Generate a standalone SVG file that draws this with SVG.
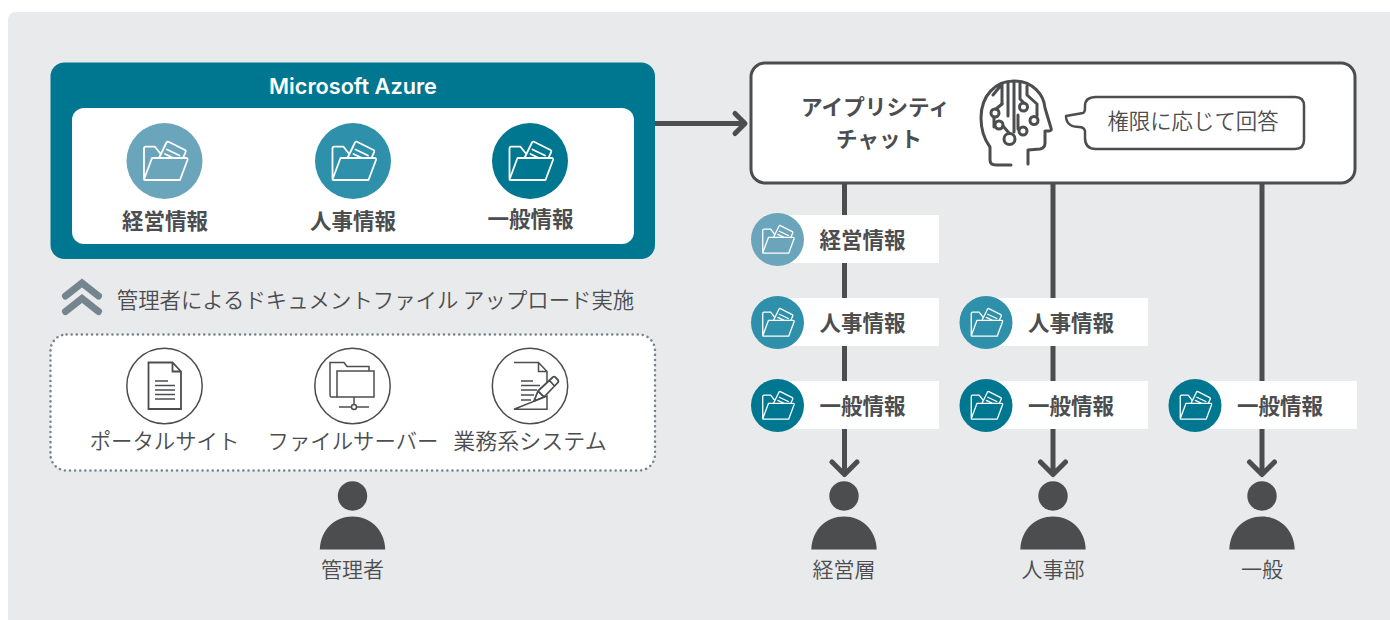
<svg xmlns="http://www.w3.org/2000/svg" width="1390" height="620" viewBox="0 0 1390 620">
<style>
text{font-family:"Noto Sans CJK JP","Noto Sans",sans-serif;fill:#4c4d4f;text-anchor:middle}
.b{font-weight:700;font-size:21.500px}
.r{font-size:21.400px;font-weight:350}
.p{font-size:21px;font-weight:350}
.ln{fill:none;stroke:#4c4d4f;stroke-width:5;stroke-linecap:round;stroke-linejoin:round}
.ic{fill:none;stroke:#4c4d4f;stroke-width:1.500}
.lab{fill:#fff}
.c1{fill:#6ba5bc}.c2{fill:#2e90aa}.c3{fill:#007791}
</style>
<defs>
<g id="folder" fill="none" stroke="#fff" stroke-width="1.800" stroke-linejoin="round" stroke-linecap="round">
<path d="M-20.500 17V-12.500q0-1.800 1.800-1.800H-9.500l5.500 7M-20.500 18.500L-12.500-3H21.500q2 0 1.500 2L15.500 19H-19.500q-1 0-1-.5"/>
<path d="M-5.500-3L2-18.500q.8-1.300 2-.7L20.500-11q1.300.7.7 2L18.500-3M2.500-11.500L15-5.500M.5-7L9-3"/>
</g>
<g id="person" fill="#4c4d4f">
<circle cx="0" cy="0" r="14.700"/>
<path d="M-32.700 53.500C-32 33-17 20.500 0 20.500S32 33 32.700 53.500Z"/>
</g>
</defs>
<rect id="background" x="8" y="12" width="1400" height="620" rx="8" fill="#e9eaec"/>

<g id="connectors">
<path class="ln" d="M655 123.500H744M735 113.500L745 123.500L735 133.500"/>
<path class="ln" d="M844.500 184V472M832 462L844.500 474.500L857 462"/>
<path class="ln" d="M1053 184V472M1040.500 462L1053 474.500L1065.500 462"/>
<path class="ln" d="M1262 184V472M1249.500 462L1262 474.500L1274.500 462"/>
</g>

<g id="azure">
<rect x="50.500" y="62.500" width="604.500" height="196.500" rx="14" fill="#007791"/>
<rect x="72" y="108" width="562" height="136" rx="12" fill="#fff"/>
<text x="353" y="94" style="font-family:Inter,'Noto Sans',sans-serif;font-weight:600;font-size:21.700px;fill:#fff">Microsoft Azure</text>
</g>
<g id="azure-keiei"><circle class="c1" cx="164.500" cy="161" r="38"/><use href="#folder" x="164.500" y="161"/><text class="b" x="165" y="229">経営情報</text></g>
<g id="azure-jinji"><circle class="c2" cx="353" cy="161" r="38"/><use href="#folder" x="353" y="161"/><text class="b" x="353" y="229">人事情報</text></g>
<g id="azure-ippan"><circle class="c3" cx="530" cy="161" r="38"/><use href="#folder" x="530" y="161"/><text class="b" x="530.500" y="227">一般情報</text></g>

<g id="upload">
<path d="M65.500 296L82 283L98.500 296M65.500 311.500L82 298.500L98.500 311.500" fill="none" stroke="#75858f" stroke-width="7" stroke-linecap="round" stroke-linejoin="miter"/>
<text class="r" x="375.500" y="308">管理者によるドキュメントファイル アップロード実施</text>
</g>

<g id="sources">
<rect x="50.500" y="334.500" width="604.500" height="136" rx="16" fill="#fff" stroke="#75858f" stroke-width="2.500" stroke-dasharray="0.100 5" stroke-linecap="round"/>
</g>
<g id="portal">
<circle class="ic" cx="164.500" cy="386" r="37.700"/>
<path class="ic" style="stroke-width:1.800" d="M148.500 362.500H172.500L181 371.500V409H148.500ZM172.500 362.500V371.500H181"/>
<path class="ic" d="M155 381H168M155 385.500H175M155 390H175M155 394.500H175M155 399H175"/>
<text class="r" x="164.500" y="449">ポータルサイト</text>
</g>
<g id="fileserver">
<circle class="ic" cx="352.500" cy="386" r="37.700"/>
<path class="ic" d="M331 397Q330 397 330 395V362.500H344L347 366.500H369V371"/>
<rect class="ic" x="337" y="371" width="37" height="26"/>
<path class="ic" d="M331 397H337M354 397V404M339 407H351.500M356.500 407H369"/>
<circle class="ic" cx="354" cy="407" r="2.500"/>
<text class="r" x="353" y="449">ファイルサーバー</text>
</g>
<g id="business">
<circle class="ic" cx="530" cy="386" r="37.700"/>
<path class="ic" d="M514 362.500H538.500L547 371.500V382M547 396V409.300H514ZM538.500 362.500V371.500H547"/>
<path class="ic" d="M521 381H533M521 385.500H540M521 390H537M521 395H534M521 400H531"/>
<path class="ic" style="stroke-width:1.800;stroke-linejoin:round" d="M534 401L538 391L553 377Q555 376 556 378L558 380Q559 382 557.500 383L544 397ZM538 391L544 397M549.500 380.500L554.500 386"/>
<text class="r" x="530" y="449" style="font-size:22px">業務系システム</text>
</g>

<g id="chat">
<rect x="751" y="63" width="604" height="120" rx="14" fill="#fff" stroke="#4c4d4f" stroke-width="3"/>
<text class="b" x="875.500" y="115" style="font-size:21.600px">アイプリシティ</text>
<text class="b" x="879" y="147">チャット</text>
<g id="brain" fill="none" stroke="#4c4d4f" stroke-width="3" stroke-linecap="round" stroke-linejoin="round">
<path d="M1011 165H996Q990 165 990 160V147Q981 135 981 118C981 95 996 81 1014 81C1033 81 1044 95 1045 108L1051 128Q1052 131 1049 131H1045V143Q1045 148 1040 149L1028 150V164"/>
<path d="M1002 85V104M1002 84L993 95M1008 83V116M1014 82V132M1020 83V99L1024 103M1027 86V95L1037 104V116"/>
<circle cx="995" cy="113" r="4"/><circle cx="999" cy="125" r="4"/><circle cx="1023.500" cy="107" r="4"/><circle cx="1034" cy="120.500" r="4"/><circle cx="1023" cy="131" r="4"/><circle cx="1009.500" cy="139" r="5.500"/>
<path d="M1002 104L996 109M994 118L994 127M1003 126L1009 133M1018 115V129"/>
</g>
<path fill="none" stroke="#4c4d4f" stroke-width="2.500" stroke-linejoin="round" d="M1096 97H1295Q1304 97 1304 106V140Q1304 149 1295 149H1096Q1085 149 1085 138V131Q1084 127 1079 127C1072 127 1066 124 1066 116L1083 113Q1085 112 1085 108V106Q1085 97 1096 97Z"/>
<text class="r" x="1193" y="129">権限に応じて回答</text>
</g>

<g id="row1-keiei"><rect class="lab" x="764" y="215" width="175" height="48"/><circle class="c1" cx="777.500" cy="239.500" r="26.500"/><use href="#folder" transform="translate(777.500 239.500) scale(.72)"/><text class="b" x="862.500" y="247.500">経営情報</text></g>
<g id="row2-jinji"><rect class="lab" x="764" y="298" width="175" height="48"/><circle class="c2" cx="777.500" cy="322.500" r="26.500"/><use href="#folder" transform="translate(777.500 322.500) scale(.72)"/><text class="b" x="862.500" y="330.500">人事情報</text></g>
<g id="row3-ippan"><rect class="lab" x="764" y="381" width="175" height="48"/><circle class="c3" cx="777.500" cy="405.500" r="26.500"/><use href="#folder" transform="translate(777.500 405.500) scale(.72)"/><text class="b" x="862.500" y="413.500">一般情報</text></g>
<g id="hr-jinji"><rect class="lab" x="973" y="298" width="175" height="48"/><circle class="c2" cx="986" cy="322.500" r="26.500"/><use href="#folder" transform="translate(986 322.500) scale(.72)"/><text class="b" x="1071" y="330.500">人事情報</text></g>
<g id="hr-ippan"><rect class="lab" x="973" y="381" width="175" height="48"/><circle class="c3" cx="986" cy="405.500" r="26.500"/><use href="#folder" transform="translate(986 405.500) scale(.72)"/><text class="b" x="1071" y="413.500">一般情報</text></g>
<g id="gen-ippan"><rect class="lab" x="1182" y="381" width="175" height="48"/><circle class="c3" cx="1195" cy="405.500" r="26.500"/><use href="#folder" transform="translate(1195 405.500) scale(.72)"/><text class="b" x="1280" y="413.500">一般情報</text></g>

<g id="admin"><use href="#person" x="352.500" y="496"/><text class="p" x="352.500" y="577">管理者</text></g>
<g id="exec"><use href="#person" x="844" y="496"/><text class="p" x="844" y="577">経営層</text></g>
<g id="hr"><use href="#person" x="1053" y="496"/><text class="p" x="1053" y="577">人事部</text></g>
<g id="general"><use href="#person" x="1262" y="496"/><text class="p" x="1262" y="577">一般</text></g>
</svg>
